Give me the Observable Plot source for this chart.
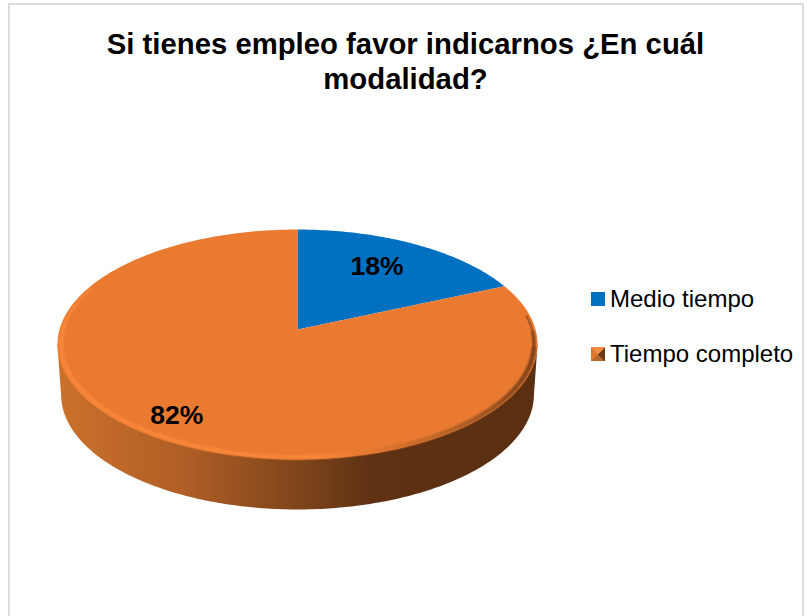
<!DOCTYPE html>
<html lang="es">
<head>
<meta charset="utf-8">
<script src="https://cdn.jsdelivr.net/npm/d3@7"></script>
<script src="https://cdn.jsdelivr.net/npm/@observablehq/plot@0.6"></script>
<style>
  html, body { margin: 0; padding: 0; background: #fff; }
  #chart { position: relative; width: 811px; height: 616px; overflow: hidden; font-family: "Liberation Sans", Arial, sans-serif; color: #000; }
  #border { position: absolute; left: 8px; top: 3px; width: 792px; height: 640px; border: 2px solid #dcdcdc; box-sizing: content-box; }
  #title { position: relative; height: 110px; box-sizing: border-box; padding-top: 26px; text-align: center; font-weight: bold; font-size: 29.3px; line-height: 35px; }
  #plot { position: absolute; left: 0; top: 110px; }
  #plot svg { display: block; background: transparent; }
  .legend-item { position: absolute; left: 591px; display: flex; align-items: center; font-size: 24px; white-space: nowrap; height: 28px; }
  .swatch { width: 14px; height: 14px; margin-right: 5px; flex: none; }
</style>
</head>
<body>
<div id="chart">
  <div id="border"></div>
  <div id="title">Si tienes empleo favor indicarnos ¿En cuál<br>modalidad?</div>
  <div id="plot"></div>
  <div id="legend"></div>
</div>
<script>
// Data
const categories = ["Medio tiempo", "Tiempo completo"];
const shares = [18.4, 81.6];
const colors = ["#0070c0", "#e97a30"];

// Style and geometry of the tilted disc
const tilt = 0.1304;
const depth = 50 / 113;
const lowerScale = 0.985;
const labelRadius = [0.70, 0.83];
const labelAngleShift = [-0.037, 0.012];
const legendTops = [285, 340];
const swatchFills = [
  "#0070c0",
  "conic-gradient(from -45deg, #f08a3c 0 25%, #6a3a15 25% 50%, #b5642a 50% 75%, #d9762f 75% 100%)"
];
// Overlaid bevel strokes: arcs grow longer as they get narrower, so the ends taper
const bevelLayers = [
  {from: 1.75, to: 4.75, width: 6.5, opacity: 0.3, radius: 0.985},
  {from: 1.6, to: 4.95, width: 4.5, opacity: 0.35, radius: 0.985},
  {from: 1.45, to: 5.1, width: 2.5, opacity: 0.45, radius: 0.985}
];

// Place a point of the unit disc, angle clockwise from the top
const project = (angle, r = 1) => {
  const u = r * Math.sin(angle), v = r * Math.cos(angle), w = 1 + tilt * v;
  return [u / w, v / w];
};
const fullTurn = 2 * Math.PI;
const pie = d3.pie().sort(null).value(d => d.share)(
  categories.map((name, i) => ({name, share: shares[i]}))
);
const angleRange = (a0, a1, n) => d3.range(n + 1).map(i => a0 + (a1 - a0) * i / n);

// Slices
const slicePoints = pie.flatMap(s => {
  const steps = Math.ceil((s.endAngle - s.startAngle) * 60);
  const pts = [[0, 0], ...angleRange(s.startAngle, s.endAngle, steps).map(a => project(a))];
  return pts.map(([x, y]) => ({x, y, name: s.data.name}));
});

// Wall: lower rim, then back up across the upper rim
const sideAngle = Math.acos(-tilt);
const lowerRim = angleRange(sideAngle, fullTurn - sideAngle, 200).map(a => {
  const [x, y] = project(a);
  return {x: x * lowerScale, y: y - depth};
});
const upperEnds = [fullTurn - sideAngle, sideAngle].map(a => {
  const [x, y] = project(a);
  return {x, y};
});
const wall = [...lowerRim, ...upperEnds];

// Bevel along the disc edge
const bevelMarks = bevelLayers.map(layer => {
  const arc = angleRange(layer.from, layer.to, 200).map(a => {
    const [x, y] = project(a, layer.radius);
    return {x, y};
  });
  return Plot.line(arc, {
    x: "x", y: "y", curve: "linear",
    stroke: "url(#rimStroke)", strokeWidth: layer.width, strokeOpacity: layer.opacity
  });
});

// Labels
const labels = pie.map((s, i) => {
  const [x, y] = project((s.startAngle + s.endAngle) / 2 + labelAngleShift[i], labelRadius[i]);
  return {x, y, text: `${Math.round(s.data.share)}%`};
});

const defs = () => d3.create("svg:defs").html(`
  <linearGradient id="wallFill" gradientUnits="userSpaceOnUse" x1="58" x2="535" y1="0" y2="0">
    <stop offset="0" stop-color="#cb712b"/>
    <stop offset="0.25" stop-color="#b25f26"/>
    <stop offset="0.5" stop-color="#7f451a"/>
    <stop offset="0.66" stop-color="#5e3113"/>
    <stop offset="1" stop-color="#5a2f12"/>
  </linearGradient>
  <linearGradient id="rimStroke" gradientUnits="userSpaceOnUse" x1="58" x2="535" y1="0" y2="0">
    <stop offset="0" stop-color="#ff8a3a"/>
    <stop offset="0.55" stop-color="#fb8838"/>
    <stop offset="0.68" stop-color="#d9722d"/>
    <stop offset="0.82" stop-color="#a65a24"/>
    <stop offset="1" stop-color="#5e3113"/>
  </linearGradient>`).node();

const chart = Plot.plot({
  width: 811,
  height: 506,
  margin: 0,
  x: {domain: [-1, 1], range: [59, 535], axis: null},
  y: {domain: [-1, 1], range: [332, 106], axis: null},
  color: {domain: categories, range: colors},
  style: {background: "transparent"},
  marks: [
    defs,
    Plot.line(wall, {x: "x", y: "y", fill: "url(#wallFill)", stroke: "none"}),
    Plot.line(slicePoints, {x: "x", y: "y", z: "name", fill: "name", stroke: "none"}),
    ...bevelMarks,
    Plot.text(labels, {
      x: "x", y: "y", text: "text", fill: "#000",
      fontSize: 26.5, fontWeight: "bold", fontFamily: "Liberation Sans, Arial, sans-serif"
    })
  ]
});
document.getElementById("plot").appendChild(chart);

// Legend
const legend = document.getElementById("legend");
categories.forEach((name, i) => {
  const item = document.createElement("div");
  item.className = "legend-item";
  item.style.top = legendTops[i] + "px";
  const sw = document.createElement("span");
  sw.className = "swatch";
  sw.style.background = swatchFills[i];
  item.appendChild(sw);
  item.appendChild(document.createTextNode(name));
  legend.appendChild(item);
});
</script>
</body>
</html>
